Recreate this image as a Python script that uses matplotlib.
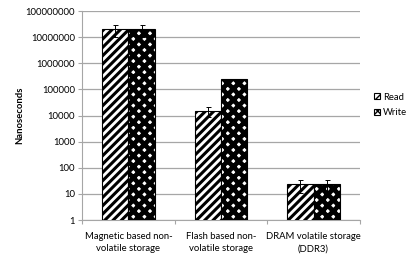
import matplotlib
matplotlib.use("Agg")
import matplotlib.pyplot as plt
import numpy as np

categories = ["Magnetic based non-\nvolatile storage",
              "Flash based non-\nvolatile storage",
              "DRAM volatile storage\n(DDR3)"]
read_ns = [2.0e7, 1.5e4, 23]
write_ns = [2.0e7, 2.4e5, 23]
read_err = [1.0e7, 6.0e3, 12]
write_err = [1.0e7, 2.0e4, 12]
yticks = [1, 10, 100, 1000, 10000, 100000, 1000000, 10000000, 100000000]

plt.rcParams['font.family'] = ['Lato', 'DejaVu Sans']

fig = plt.figure(figsize=(4.15, 2.62), dpi=100)
ax = fig.add_axes([0.198, 0.160, 0.669, 0.798])

x = np.arange(len(categories))
w = 0.285

with plt.rc_context({'hatch.linewidth': 2.2}):
    ax.bar(x - w / 2, read_ns, w, facecolor='white', edgecolor='black',
           hatch='////', linewidth=0.8, label='Read', zorder=3)
with plt.rc_context({'hatch.linewidth': 3.4}):
    ax.bar(x + w / 2, write_ns, w, facecolor='white', edgecolor='black',
           hatch='xxx', linewidth=0.8, label='Write', zorder=3)

ax.errorbar(x - w / 2, read_ns, yerr=read_err, fmt='none', ecolor='black',
            elinewidth=0.7, capsize=1.8, capthick=0.7, zorder=4)
ax.errorbar(x + w / 2, write_ns, yerr=write_err, fmt='none', ecolor='black',
            elinewidth=0.7, capsize=1.8, capthick=0.7, zorder=4)

ax.set_yscale('log')
ax.set_ylim(1, 1e8)
ax.set_xlim(-0.5, 2.5)
ax.set_yticks(yticks)
ax.set_yticklabels([str(v) for v in yticks])
ax.yaxis.set_minor_locator(matplotlib.ticker.NullLocator())
ax.grid(axis='y', color='#a6a6a6', linewidth=0.9, zorder=0)

ax.set_xticks([-0.5, 0.5, 1.5, 2.5])
ax.set_xticklabels([])
ax.tick_params(axis='x', length=3, color='#a6a6a6', width=0.8)
ax.tick_params(axis='y', length=3, color='#a6a6a6', width=0.8,
               labelsize=6.8, pad=2)
for i, lab in enumerate(categories):
    ax.text(x[i], -0.055, lab, transform=ax.get_xaxis_transform(),
            ha='center', va='top', fontsize=6.8, linespacing=1.5)

for s in ['top', 'right']:
    ax.spines[s].set_visible(False)
for s in ['left', 'bottom']:
    ax.spines[s].set_color('#a6a6a6')
    ax.spines[s].set_linewidth(0.8)

fig.text(0.048, 0.56, 'Nanoseconds', rotation=90, ha='center', va='center',
         fontsize=6.8, fontweight='bold')

ax.legend(loc='center left', bbox_to_anchor=(1.02, 0.55), frameon=False,
          fontsize=6.8, handlelength=0.6, handleheight=0.6,
          handletextpad=0.4, labelspacing=0.7)

fig.savefig('out.png', dpi=100)
